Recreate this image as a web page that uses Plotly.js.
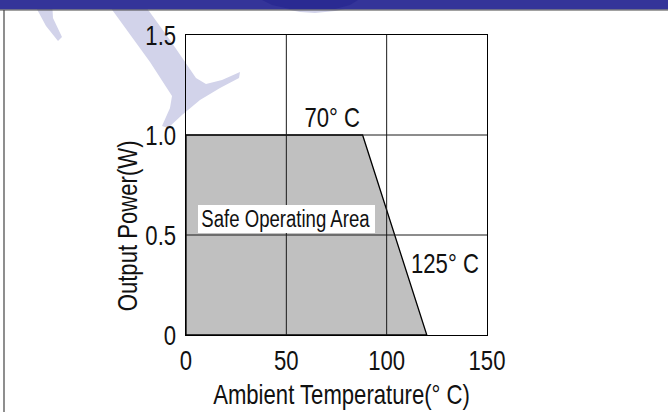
<!DOCTYPE html>
<html>
<head>
<meta charset="utf-8">
<script src="https://cdn.plot.ly/plotly-3.0.1.min.js"></script>
<style>html,body{margin:0;padding:0;background:#fff;}#chart{width:668px;height:412px;}</style>
</head>
<body>
<div id="chart"></div>
<script>
// Data
const areaTemp = [0, 0, 88, 120, 0];      // °C
const areaPower = [0, 1.0, 1.0, 0, 0];    // W
const xTicks = [0, 50, 100, 150];
const yTicks = [0, 0.5, 1.0, 1.5];
const yTickText = ['0', '0.5', '1.0', '1.5'];
const labelTexts = ['70° C', 'Safe Operating Area', '125° C'];
const labelX = [73, 50, 129];
const labelY = [1.09, 0.58, 0.36];
const xTitle = 'Ambient Temperature(° C)';
const yTitle = 'Output Power(W)';

const FONT = 'Liberation Sans, Arial, sans-serif';
const FS = 28;
const SQUEEZE = 0.79;
const L = 186, R = 487, T = 35, B = 335, W = 668, H = 412;
const px = x => (x - L) / (R - L);
const py = y => (B - y) / (B - T);

const traces = [{
  x: areaTemp, y: areaPower, type: 'scatter', mode: 'lines',
  fill: 'toself', fillcolor: '#c0c0c0',
  line: {color: '#000', width: 1.3}, hoverinfo: 'skip', showlegend: false
}];
const xr = [xTicks[0], xTicks[xTicks.length - 1]];
const yr = [yTicks[0], yTicks[yTicks.length - 1]];
xTicks.slice(1, -1).forEach(v => traces.push({x: [v, v], y: yr, mode: 'lines', line: {color: '#1a1a1a', width: 1}, hoverinfo: 'skip', showlegend: false}));
yTicks.slice(1, -1).forEach(v => traces.push({x: xr, y: [v, v], mode: 'lines', line: {color: '#1a1a1a', width: 1}, hoverinfo: 'skip', showlegend: false}));

function poly(pts) {
  return 'M ' + pts.map(p => px(p[0]).toFixed(4) + ' ' + py(p[1]).toFixed(4)).join(' L ') + ' Z';
}
const lav = '#d2d3ea';
const shapes = [
  {type: 'path', xref: 'paper', yref: 'paper', layer: 'below', line: {width: 0}, fillcolor: lav,
   path: poly([[105, 0], [141, 0], [170, 40], [196, 78], [206, 84], [222, 80], [240, 72], [239, 78], [220, 88], [200, 100], [182, 115], [168, 128], [162, 126], [170, 108], [172, 96], [150, 62]])},
  {type: 'path', xref: 'paper', yref: 'paper', layer: 'below', line: {width: 0}, fillcolor: lav,
   path: poly([[32, 0], [52, 0], [53, 18], [62, 37], [58, 41], [46, 26]])},
  {type: 'path', xref: 'paper', yref: 'paper', layer: 'below', line: {width: 0}, fillcolor: lav,
   path: poly([[285, 9], [300, 12], [315, 13], [335, 11], [345, 9]])},
  {type: 'rect', xref: 'paper', yref: 'paper', layer: 'below', line: {width: 0}, fillcolor: '#343499',
   x0: px(0), x1: px(W), y0: py(0), y1: py(9.5)},
  {type: 'path', xref: 'paper', yref: 'paper', layer: 'below', line: {width: 0}, fillcolor: '#2a2a92',
   path: poly([[262, 0], [272, 5], [290, 9], [335, 9], [350, 5], [358, 0]])},
  {type: 'line', xref: 'paper', yref: 'paper', layer: 'below', line: {width: 1.2, color: '#444'},
   x0: px(0), x1: px(W), y0: py(10), y1: py(10)},
  {type: 'line', xref: 'paper', yref: 'paper', layer: 'below', line: {width: 1.2, color: '#444'},
   x0: px(4), x1: px(4), y0: py(10), y1: py(H)},
  {type: 'rect', xref: 'paper', yref: 'paper', layer: 'above', line: {width: 0}, fillcolor: '#fff',
   x0: px(198), x1: px(375), y0: py(233), y1: py(205)}
];

const annotations = labelTexts.map((t, i) => ({
  x: labelX[i], y: labelY[i], xref: 'x', yref: 'y', text: t, showarrow: false,
  xanchor: 'center', yanchor: 'middle',
  font: {family: FONT, size: i === 1 ? 23.5 : FS, color: '#111'}
}));
annotations.push({
  xref: 'paper', yref: 'paper', x: px(127), y: py(226), text: yTitle, textangle: -90,
  xanchor: 'center', yanchor: 'middle',
  showarrow: false, font: {family: FONT, size: FS, color: '#111'}
});
annotations.push({
  xref: 'paper', yref: 'paper', x: px(341), y: py(394), text: xTitle,
  xanchor: 'center', yanchor: 'middle',
  showarrow: false, font: {family: FONT, size: FS, color: '#111'}
});

const layout = {
  width: W, height: H,
  margin: {l: L, r: W - R, t: T, b: H - B},
  paper_bgcolor: '#fff', plot_bgcolor: 'rgba(0,0,0,0)',
  showlegend: false,
  font: {family: FONT, size: FS, color: '#111'},
  xaxis: {
    range: xr, tickvals: xTicks, showgrid: false, zeroline: false,
    showline: true, mirror: true, linecolor: '#000', linewidth: 1.3,
    ticks: '', tickfont: {family: FONT, size: FS, color: '#111'},
    fixedrange: true
  },
  yaxis: {
    range: yr, tickvals: yTicks, ticktext: yTickText, showgrid: false, zeroline: false,
    showline: true, mirror: true, linecolor: '#000', linewidth: 1.3,
    ticks: '', ticklabelstandoff: 3, tickfont: {family: FONT, size: FS, color: '#111'},
    fixedrange: true
  },
  shapes: shapes,
  annotations: annotations
};

Plotly.newPlot('chart', traces, layout, {displayModeBar: false, staticPlot: true}).then(() => {
  document.querySelectorAll('#chart svg text').forEach(el => {
    const len = el.getComputedTextLength();
    if (len > 0) {
      el.setAttribute('textLength', (len * SQUEEZE).toFixed(2));
      el.setAttribute('lengthAdjust', 'spacingAndGlyphs');
    }
  });
});
</script>
</body>
</html>
